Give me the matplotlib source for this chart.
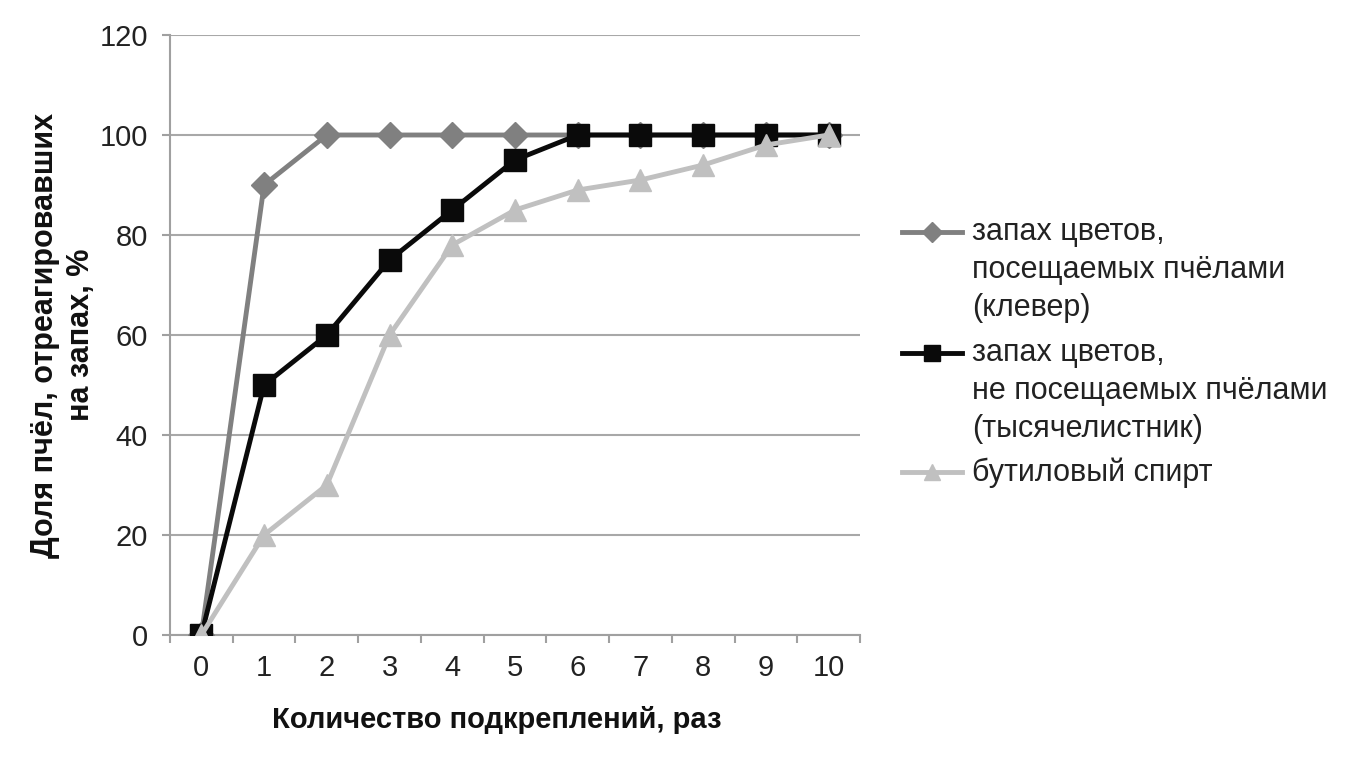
import matplotlib
matplotlib.use("Agg")
import matplotlib.pyplot as plt
from matplotlib.lines import Line2D

plt.rcParams['font.family'] = ['Liberation Sans', 'DejaVu Sans']

categories = [0, 1, 2, 3, 4, 5, 6, 7, 8, 9, 10]
clover = [0, 90, 100, 100, 100, 100, 100, 100, 100, 100, 100]
yarrow = [0, 50, 60, 75, 85, 95, 100, 100, 100, 100, 100]
butanol = [0, 20, 30, 60, 78, 85, 89, 91, 94, 98, 100]
labels = ["запах цветов,\nпосещаемых пчёлами\n(клевер)",
          "запах цветов,\nне посещаемых пчёлами\n(тысячелистник)",
          "бутиловый спирт"]
y_ticks = [0, 20, 40, 60, 80, 100, 120]

W, H = 1362, 761
fig = plt.figure(figsize=(W / 100, H / 100), dpi=100)
ax = fig.add_axes([170 / W, 126 / H, 690 / W, 600 / H])

styles = [
    dict(color='#808080', marker='D', ms=13, lw=3.5, zorder=3),
    dict(color='#0a0a0a', marker='s', ms=16, lw=3.5, zorder=4),
    dict(color='#c0c0c0', marker='^', ms=16, lw=3.5, zorder=5),
]
series = [clover, yarrow, butanol]

x = list(range(len(categories)))
for data, st in zip(series, styles):
    ax.plot(x, data, **st)

ax.set_xlim(-0.5, len(categories) - 0.5)
ax.set_ylim(0, 120)
ax.set_yticks(y_ticks)
ax.set_yticklabels([str(v) for v in y_ticks], fontsize=21, color='#222222')
ax.set_xticks(x)
ax.set_xticklabels([str(c) for c in categories], fontsize=21, color='#222222')
ax.set_xticks([i - 0.5 for i in range(len(categories) + 1)], minor=True)
ax.tick_params(axis='x', which='major', length=0, pad=14)
ax.tick_params(axis='x', which='minor', length=6, color='#a0a0a0', width=1.5, direction='out')
ax.tick_params(axis='y', length=6, color='#a0a0a0', width=1.5, pad=10)
ax.grid(axis='y', color='#a8a8a8', lw=1.5, zorder=0)
for s in ['top', 'right']:
    ax.spines[s].set_visible(False)
for s in ['left', 'bottom']:
    ax.spines[s].set_color('#a0a0a0')
    ax.spines[s].set_linewidth(1.5)

ax.set_xlabel("Количество подкреплений, раз", fontsize=21, fontweight='bold', color='#111111')
ax.xaxis.set_label_coords((497 - 170) / 690, (635 - 706) / 600)
ax.set_ylabel("Доля пчёл, отреагировавших\nна запах, %", fontsize=22, fontweight='bold',
              linespacing=1.25, color='#111111')
ax.yaxis.set_label_coords((96 - 170) / 690, 0.5)

# legend (Excel style: handle aligned with first text line)
entry_y = [232, 353, 472]
leg_ms = [10, 12, 12]
for lab, st, yy, ms in zip(labels, styles, entry_y, leg_ms):
    fy = 1 - yy / H
    ln = Line2D([902 / W, 962 / W], [fy, fy], transform=fig.transFigure,
                color=st['color'], lw=3.5)
    mk = Line2D([932 / W], [fy], transform=fig.transFigure, color=st['color'],
                marker=st['marker'], ms=ms, lw=0)
    fig.add_artist(ln)
    fig.add_artist(mk)
    fig.text(972 / W, 1 - (yy - 15) / H, lab, fontsize=22, va='top', ha='left',
             linespacing=1.35, color='#222222')

fig.savefig("out.png", dpi=100)
